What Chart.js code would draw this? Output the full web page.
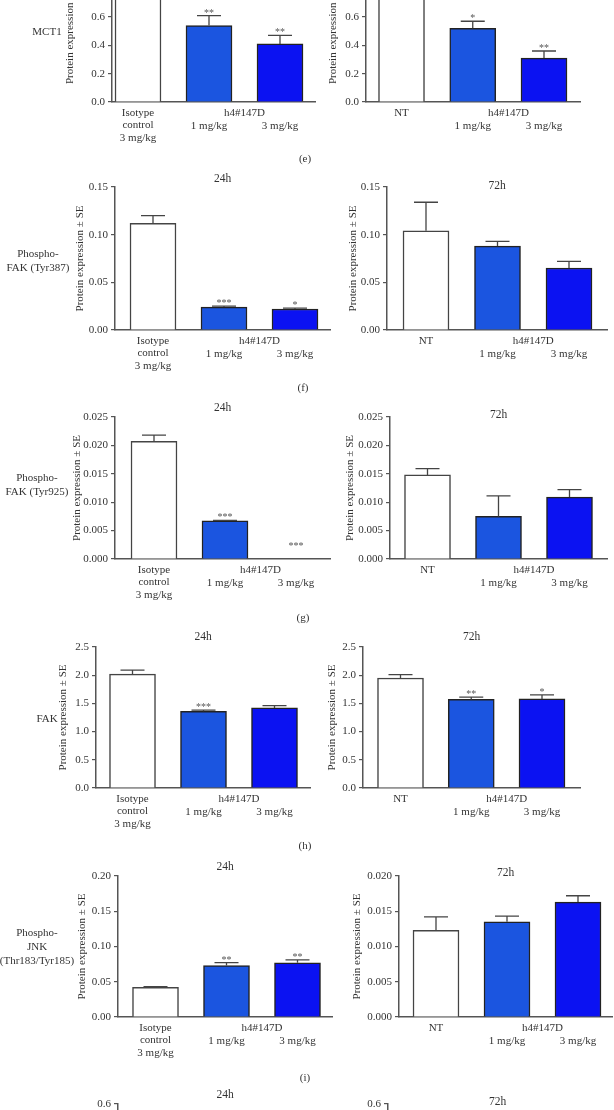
<!DOCTYPE html>
<html>
<head>
<meta charset="utf-8">
<script src="https://cdn.jsdelivr.net/npm/chart.js@4.4.1/dist/chart.umd.min.js"></script>
<style>
  html, body { margin: 0; padding: 0; background: #fff; }
  #page { position: relative; width: 614px; height: 1110px; overflow: hidden; background: #fff; }
  #page canvas { position: absolute; left: 0; top: -200px; }
  .txt { position: absolute; transform: translate(-50%, -50%); font-family: "Liberation Serif", "DejaVu Serif", serif;
         font-size: 11px; color: #333; text-align: center; white-space: pre; line-height: 14px; }
</style>
</head>
<body>
<div id="page"></div>
<script>
// labels
const markerNames = ['MCT1', 'Phospho-\nFAK (Tyr387)', 'Phospho-\nFAK (Tyr925)', 'FAK', 'Phospho-\nJNK\n(Thr183/Tyr185)'];
const panelTags = ['(e)', '(f)', '(g)', '(h)', '(i)'];
const timepoints = ['24h', '72h'];
const controlLabel24 = ['Isotype', 'control', '3 mg/kg'];
const controlLabel72 = ['NT'];
const treatmentLabel = 'h4#147D';
const doseLabels = ['1 mg/kg', '3 mg/kg'];
const yTitle = 'Protein expression \u00b1 SE';

// values: mean, top of SE whisker, significance marks
const mct1_24 = [1.0, 0.54, 0.41];
const mct1_24_se = [1.0, 0.61, 0.47];
const mct1_24_sig = ['', '**', '**'];
const mct1_72 = [1.0, 0.52, 0.31];
const mct1_72_se = [1.0, 0.57, 0.36];
const mct1_72_sig = ['', '*', '**'];

const fak387_24 = [0.112, 0.024, 0.022];
const fak387_24_se = [0.120, 0.025, 0.023];
const fak387_24_sig = ['', '***', '*'];
const fak387_72 = [0.104, 0.088, 0.065];
const fak387_72_se = [0.134, 0.093, 0.072];
const fak387_72_sig = ['', '', ''];

const fak925_24 = [0.0207, 0.0067, 0];
const fak925_24_se = [0.0218, 0.0068, 0];
const fak925_24_sig = ['', '***', '***'];
const fak925_72 = [0.0148, 0.0075, 0.0109];
const fak925_72_se = [0.0159, 0.0111, 0.0122];
const fak925_72_sig = ['', '', ''];

const fak_24 = [2.02, 1.36, 1.42];
const fak_24_se = [2.09, 1.38, 1.46];
const fak_24_sig = ['', '***', ''];
const fak_72 = [1.95, 1.57, 1.58];
const fak_72_se = [2.01, 1.61, 1.65];
const fak_72_sig = ['', '**', '*'];

const jnk_24 = [0.042, 0.073, 0.077];
const jnk_24_se = [0.043, 0.077, 0.081];
const jnk_24_sig = ['', '**', '**'];
const jnk_72 = [0.0123, 0.0135, 0.0163];
const jnk_72_se = [0.0142, 0.0143, 0.0172];
const jnk_72_sig = ['', '', ''];

// next panel is cut off by the figure edge, only its top is visible
const cut_24 = [];
const cut_72 = [];

const barColors = ['#ffffff', '#1b55e0', '#0b12f2'];
const FONT = '"Liberation Serif", "DejaVu Serif", serif';
const OFF = 200;          // canvases start 200px above the page
const CW = 614, CH = 1510;

// geometry of each small chart (page pixels)
const panels = [
  {vals: mct1_24, se: mct1_24_se, sig: mct1_24_sig, side: 0, axisX: 112, endX: 315, c0: 138, c2: 280, y0: 102, top: -39.7, max: 1.0, step: 0.2, dec: 1, titleX: 70, periodY: null},
  {vals: mct1_72, se: mct1_72_se, sig: mct1_72_sig, side: 1, axisX: 366, endX: 580, c0: 401.5, c2: 544, y0: 102, top: -39.7, max: 1.0, step: 0.2, dec: 1, titleX: 333, periodY: null},
  {vals: fak387_24, se: fak387_24_se, sig: fak387_24_sig, side: 0, axisX: 115, endX: 330, c0: 153, c2: 295, y0: 330, top: 187, max: 0.15, step: 0.05, dec: 2, titleX: 80, periodY: 179},
  {vals: fak387_72, se: fak387_72_se, sig: fak387_72_sig, side: 1, axisX: 387, endX: 607, c0: 426, c2: 569, y0: 330, top: 187, max: 0.15, step: 0.05, dec: 2, titleX: 353, periodY: 186},
  {vals: fak925_24, se: fak925_24_se, sig: fak925_24_sig, side: 0, axisX: 115, endX: 330, c0: 154, c2: 296, y0: 559, top: 417, max: 0.025, step: 0.005, dec: 3, titleX: 77, periodY: 408},
  {vals: fak925_72, se: fak925_72_se, sig: fak925_72_sig, side: 1, axisX: 390, endX: 607, c0: 427.5, c2: 569.5, y0: 559, top: 417, max: 0.025, step: 0.005, dec: 3, titleX: 350, periodY: 415},
  {vals: fak_24, se: fak_24_se, sig: fak_24_sig, side: 0, axisX: 96, endX: 310, c0: 132.5, c2: 274.5, y0: 788, top: 647, max: 2.5, step: 0.5, dec: 1, titleX: 63, periodY: 637},
  {vals: fak_72, se: fak_72_se, sig: fak_72_sig, side: 1, axisX: 363, endX: 580, c0: 400.5, c2: 542, y0: 788, top: 647, max: 2.5, step: 0.5, dec: 1, titleX: 332, periodY: 637},
  {vals: jnk_24, se: jnk_24_se, sig: jnk_24_sig, side: 0, axisX: 118, endX: 332, c0: 155.5, c2: 297.5, y0: 1017, top: 876, max: 0.20, step: 0.05, dec: 2, titleX: 82, periodY: 867},
  {vals: jnk_72, se: jnk_72_se, sig: jnk_72_sig, side: 1, axisX: 399, endX: 612, c0: 436, c2: 578, y0: 1017, top: 876, max: 0.020, step: 0.005, dec: 3, titleX: 357, periodY: 873},
  {vals: cut_24, se: [], sig: [], side: 0, axisX: 118, endX: 332, c0: 155.5, c2: 297.5, y0: 1246, top: 1104, max: 0.6, step: 0.2, dec: 1, titleX: 82, periodY: 1095, noLabels: true},
  {vals: cut_72, se: [], sig: [], side: 1, axisX: 388, endX: 607, c0: 426, c2: 569, y0: 1246, top: 1104, max: 0.6, step: 0.2, dec: 1, titleX: 350, periodY: 1102, noLabels: true}
];

const markerPos = [[47, 31], [38, 260], [37, 484], [47, 718], [37, 946]];
const tagPos = [[305, 158], [303, 387], [303, 617], [305, 845], [305, 1077]];

const page = document.getElementById('page');

function addText(str, x, y) {
  const el = document.createElement('div');
  el.className = 'txt';
  el.textContent = str;
  el.style.left = x + 'px';
  el.style.top = y + 'px';
  page.appendChild(el);
}

function buildChart(p) {
  const cv = document.createElement('canvas');
  cv.width = CW; cv.height = CH;
  cv.style.width = CW + 'px'; cv.style.height = CH + 'px';
  page.appendChild(cv);

  const d = (p.c2 - p.c0) / 2;
  const xMin = (p.axisX - p.c0) / d;
  const xMax = (p.endX - p.c0) / d;
  const left = p.titleX - 6.6;

  // whiskers, stars, group labels, time title
  const annotate = {
    id: 'annotate',
    afterDraw(chart) {
      const ctx = chart.ctx;
      const xs = chart.scales.x, ys = chart.scales.y;
      const area = chart.chartArea;
      ctx.save();
      ctx.strokeStyle = '#444';
      ctx.lineWidth = 1.3;
      p.vals.forEach((v, i) => {
        const cx = xs.getPixelForValue(i);
        const yv = ys.getPixelForValue(v);
        const ye = ys.getPixelForValue(p.se[i]);
        if (p.se[i] > v) {
          ctx.beginPath();
          ctx.moveTo(cx, yv);
          ctx.lineTo(cx, ye);
          ctx.moveTo(cx - 12, ye);
          ctx.lineTo(cx + 12, ye);
          ctx.stroke();
        }
        if (p.sig[i]) {
          ctx.fillStyle = '#555';
          ctx.font = '10px ' + FONT;
          ctx.textAlign = 'center';
          ctx.textBaseline = 'alphabetic';
          const sy = Math.min(ye, area.bottom - 10);
          ctx.fillText(p.sig[i], cx, sy);
        }
      });

      ctx.fillStyle = '#333';
      ctx.font = '11px ' + FONT;
      ctx.textAlign = 'center';
      ctx.textBaseline = 'middle';
      if (!p.noLabels) {
        const b = area.bottom;
        const x0 = xs.getPixelForValue(0), x1 = xs.getPixelForValue(1), x2 = xs.getPixelForValue(2);
        const ctrl = p.side === 0 ? controlLabel24 : controlLabel72;
        ctrl.forEach((t, k) => ctx.fillText(t, x0, b + 11 + k * 12.5));
        ctx.fillText(treatmentLabel, (x1 + x2) / 2, b + 11);
        ctx.fillText(doseLabels[0], x1, b + 24);
        ctx.fillText(doseLabels[1], x2, b + 24);
      }
      if (p.periodY !== null) {
        ctx.font = '11.5px ' + FONT;
        ctx.fillText(timepoints[p.side], (area.left + area.right) / 2, p.periodY + OFF);
      }
      ctx.restore();
    }
  };

  new Chart(cv.getContext('2d'), {
    type: 'bar',
    data: {
      datasets: [{
        data: p.vals.map((v, i) => ({x: i, y: v})),
        backgroundColor: barColors,
        borderColor: ['#444', '#222', '#222'],
        borderWidth: 1.5,
        barThickness: 46
      }]
    },
    options: {
      responsive: false,
      animation: false,
      events: [],
      layout: {
        padding: {left: left, top: p.top + OFF, right: CW - p.endX, bottom: CH - (p.y0 + OFF)}
      },
      plugins: {legend: {display: false}, tooltip: {enabled: false}},
      scales: {
        x: {
          type: 'linear', min: xMin, max: xMax, offset: false,
          ticks: {display: false},
          grid: {display: false, drawTicks: false},
          border: {display: true, color: '#555', width: 1.5},
          afterFit: (s) => { s.height = 0; }
        },
        y: {
          type: 'linear', min: 0, max: p.max,
          ticks: {
            stepSize: p.step, padding: 3, color: '#333',
            font: {family: FONT, size: 11},
            callback: (v) => Number(v).toFixed(p.dec)
          },
          grid: {drawOnChartArea: false, drawTicks: true, tickLength: 4, color: '#555', lineWidth: 1.2},
          border: {display: true, color: '#555', width: 1.5},
          title: {display: true, text: yTitle, color: '#333', padding: 0, font: {family: FONT, size: 11}},
          afterFit: (s) => { s.width = p.axisX - left; }
        }
      }
    },
    plugins: [annotate]
  });
}

panels.forEach(buildChart);
markerNames.forEach((m, i) => addText(m, markerPos[i][0], markerPos[i][1]));
panelTags.forEach((t, i) => addText(t, tagPos[i][0], tagPos[i][1]));
</script>
</body>
</html>
